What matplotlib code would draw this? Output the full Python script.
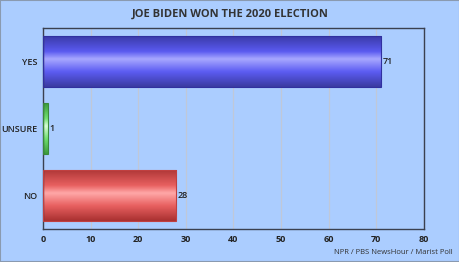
import numpy as np
import matplotlib
matplotlib.use("Agg")
import matplotlib.pyplot as plt
from matplotlib.colors import LinearSegmentedColormap
from matplotlib.patches import Rectangle

categories = ["YES", "UNSURE", "NO"]
values = [71, 1, 28]
xticks = [0, 10, 20, 30, 40, 50, 60, 70, 80]
title = "JOE BIDEN WON THE 2020 ELECTION"
source = "NPR / PBS NewsHour / Marist Poll"

bar_colors = [
    ["#3a3aa8", "#5a5af0", "#a8a8ff", "#5c5cf2", "#3a3aa0"],
    ["#3a9a3a", "#70e070", "#d8ffd8", "#70e070", "#3a9a3a"],
    ["#b03838", "#e86060", "#ffa8a8", "#e86060", "#a83030"],
]
edge_colors = ["#3030a0", "#3a8a3a", "#c04040"]

bg = "#abcdff"
fig = plt.figure(figsize=(4.6, 2.62), dpi=100, facecolor=bg)
fig.patches.append(Rectangle((0, 0), 1, 1, transform=fig.transFigure,
                             fill=False, edgecolor="#8a9ab0", linewidth=1.5))
ax = fig.add_axes([0.0935, 0.126, 0.828, 0.767])
ax.set_facecolor(bg)

ypos = np.arange(len(categories))
h = 0.75

grad = np.linspace(0, 1, 256).reshape(-1, 1)
for i, (v, cols, ec) in enumerate(zip(values, bar_colors, edge_colors)):
    cmap = LinearSegmentedColormap.from_list(f"c{i}", list(zip([0, 0.3, 0.45, 0.7, 1.0], cols)))
    ax.imshow(grad, cmap=cmap, aspect="auto",
              extent=(0, v, i + h / 2, i - h / 2), zorder=2, interpolation="bicubic")
    ax.add_patch(Rectangle((0, i - h / 2), v, h, fill=False, edgecolor=ec,
                           linewidth=0.8, zorder=3))
    ax.text(v + 0.3, i, str(v), va="center", ha="left", fontsize=6.5,
            color="#222222", family="Open Sans", fontweight="semibold", zorder=4)

ax.set_xlim(0, 80)
ax.set_ylim(len(categories) - 0.5, -0.5)
ax.set_yticks(ypos)
ax.set_yticklabels(categories, family="Open Sans", fontsize=6.5, color="#222222",
                   fontweight="semibold")
ax.set_xticks(xticks)
ax.set_xticklabels([str(t) for t in xticks], family="Open Sans", fontsize=6.5,
                   color="#222222", fontweight="bold")
ax.tick_params(axis="both", length=0, pad=4)
ax.grid(axis="x", color="#c0c8d8", linewidth=0.9, zorder=1)
ax.set_axisbelow(True)
for s in ax.spines.values():
    s.set_color("#3a4050")
    s.set_linewidth(1.0)

fig.text(0.5, 0.945, title, ha="center", va="center", fontsize=8,
         fontweight="bold", family="Open Sans", color="#333333")
fig.text(0.985, 0.035, source, ha="right", va="center", fontsize=5.5,
         family="Open Sans", color="#333333")

fig.savefig("out.png", dpi=100, facecolor=bg)
